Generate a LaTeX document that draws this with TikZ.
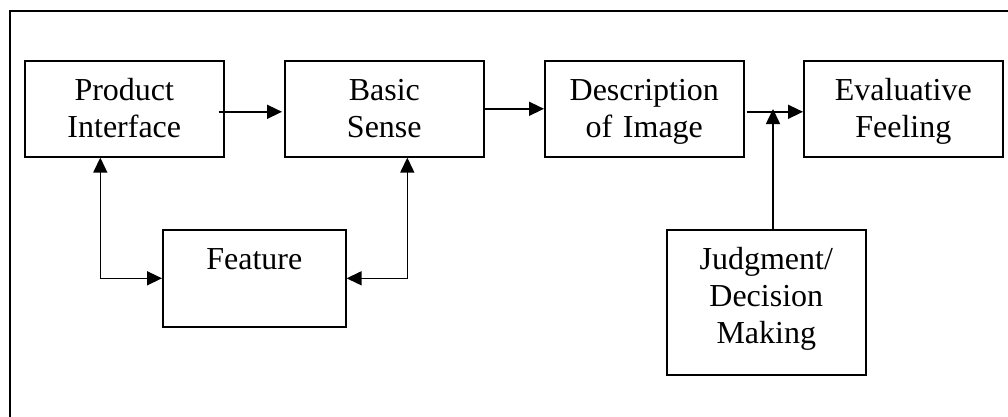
\documentclass[tikz,border=0pt]{standalone}
\usepackage{fontspec}
\setmainfont{Liberation Serif}
\usepackage{tikz}
\usetikzlibrary{arrows.meta}
\tikzset{
	block/.style={draw, line width=1.6pt, inner sep=0pt, anchor=north west, align=center,
		text height=40pt, font=\fontsize{32}{37}\selectfont},
	arr/.style={line width=1.5pt, -{Triangle[length=15pt,width=14pt]}},
	arrboth/.style={line width=1.5pt, {Triangle[length=15pt,width=14pt]}-{Triangle[length=15pt,width=14pt]}}
}
\begin{document}
\begin{tikzpicture}[x=1pt, y=-1pt]
			%%%%% START %%%%%
			
			\useasboundingbox (0, 0) rectangle (1008, 417);
			\draw[line width=1.6pt] (10, 417) -- (10, 11) -- (1008, 11);
			
			\node[block, text width=199pt, text depth=56pt] (prod) at (24, 60) {Product\\Interface};
			\node[block, text width=199pt, text depth=56pt] (sense) at (284, 60) {Basic\\Sense};
			\node[block, text width=199pt, text depth=56pt] (descr) at (544, 60) {Description\\of Image};
			\node[block, text width=199pt, text depth=56pt] (feel) at (803, 60) {Evaluative\\Feeling};
			
			\node[block, text width=183pt, text depth=57pt] (feat) at (162, 229) {Feature};
			\node[block, text width=199pt, text depth=105pt] (judge) at (666, 229) {Judgment/\\Decision\\Making};
			
			\coordinate (join) at (773, 109);
			
			\draw[arr] ([xshift=-6pt, yshift=-3pt]prod.east) -- ([xshift=-2pt, yshift=-3pt]sense.west);
			\draw[arr] (sense.east) -- (descr.west);
			\draw[arr] ([xshift=2pt, yshift=-3pt]descr.east) -- ([yshift=-3pt]feel.west);
			\draw[arr] (judge.north -| join) -- (join);
			
			\draw[arrboth] ([xshift=-24pt]prod.south) |- (feat.west);
			\draw[arrboth] ([xshift=23pt]sense.south) |- (feat.east);
			
			%%%%% END %%%%%
\end{tikzpicture}
\end{document}
